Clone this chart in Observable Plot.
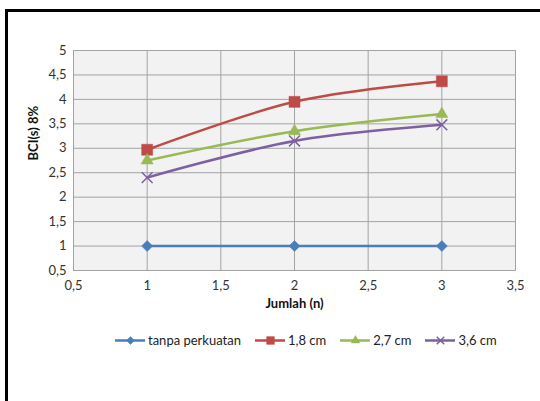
<!DOCTYPE html>
<html><head><meta charset="utf-8">
<script src="https://cdn.jsdelivr.net/npm/d3@7"></script>
<script src="https://cdn.jsdelivr.net/npm/@observablehq/plot@0.6"></script>
<style>
body{margin:0;background:#fff;}
#wrap{position:relative;width:540px;height:401px;overflow:hidden;font-family:Lato,"Open Sans",sans-serif;}
#frame{position:absolute;left:5px;top:9px;width:600px;height:500px;border:3px solid #000;box-sizing:border-box;pointer-events:none;}
#legend{position:absolute;top:332px;left:115px;display:flex;align-items:center;font-size:13px;color:#222;white-space:nowrap;}
#legend .it{display:flex;align-items:center;margin-right:14px;}
#legend svg{margin-right:3px;}
</style></head>
<body><div id="wrap"><div id="chart"></div><div id="legend"></div><div id="frame"></div></div>
<script>
const xValues = [1, 2, 3];
const seriesNames = ["tanpa perkuatan", "1,8 cm", "2,7 cm", "3,6 cm"];
const tanpa = [1, 1, 1];
const cm18 = [2.97, 3.95, 4.37];
const cm27 = [2.75, 3.35, 3.7];
const cm36 = [2.4, 3.15, 3.48];
const xTicks = [0.5, 1, 1.5, 2, 2.5, 3, 3.5];
const yTicks = [0.5, 1, 1.5, 2, 2.5, 3, 3.5, 4, 4.5, 5];
const xTitle = "Jumlah (n)";
const yTitle = "BCI(s) 8%";

const colors = ["#4a7ebb", "#be4b48", "#98b954", "#7d60a0"];
const symbols = ["diamond2", "square2", "triangle2", "times"];
const sizes = [5, 7, 5.8, 5];
const allVals = [tanpa, cm18, cm27, cm36];
const data = [];
seriesNames.forEach((s, i) => xValues.forEach((x, j) => data.push({series: s, x, y: allVals[i][j]})));
const fmt = d => String(d).replace(".", ",");

const marks = [
  Plot.frame({fill: "#f2f2f2", stroke: "#b8b8b8"}),
  Plot.ruleX(xTicks, {stroke: "#a3a3a3", strokeWidth: 1}),
  Plot.ruleY(yTicks, {stroke: "#a3a3a3", strokeWidth: 1}),
  Plot.axisX(xTicks, {tickSize: 0, tickPadding: 10, tickFormat: fmt, fontSize: 13, fill: "#333", label: null}),
  Plot.axisY(yTicks, {tickSize: 0, tickPadding: 7, tickFormat: fmt, fontSize: 13, fill: "#333", label: null}),
  Plot.text([xTitle], {frameAnchor: "bottom", dy: 37, text: d => d, fontSize: 13, fontWeight: "bold", fill: "#111"}),
  Plot.text([yTitle], {frameAnchor: "left", dx: -40, rotate: -90, text: d => d, fontSize: 13, fontWeight: "bold", fill: "#111"})
];
seriesNames.forEach((s, i) => {
  const d = data.filter(r => r.series === s);
  marks.push(Plot.line(d, {x: "x", y: "y", stroke: colors[i], strokeWidth: 2.5, curve: "catmull-rom"}));
  marks.push(Plot.dot(d, {x: "x", y: "y", symbol: () => symbols[i], r: sizes[i],
    fill: symbols[i] === "times" ? "none" : colors[i], stroke: colors[i], strokeWidth: symbols[i] === "times" ? 1.5 : 0.5}));
});

const chart = Plot.plot({
  width: 540, height: 401,
  marginLeft: 73, marginRight: 25, marginTop: 50, marginBottom: 131,
  x: {domain: [0.5, 3.5], axis: null},
  y: {domain: [0.5, 5], axis: null},
  symbol: {type: "identity"},
  style: {fontFamily: "Lato, 'Open Sans', sans-serif", background: "transparent"},
  marks
});
document.getElementById("chart").appendChild(chart);

const leg = document.getElementById("legend");
seriesNames.forEach((s, i) => {
  const it = document.createElement("div"); it.className = "it";
  const sw = Plot.plot({width: 30, height: 16, margin: 0, x: {domain: [0, 1], axis: null}, y: {domain: [0, 1], axis: null},
    symbol: {type: "identity"},
    marks: [Plot.ruleY([0.5], {stroke: colors[i], strokeWidth: 2.5}),
      Plot.dot([0.5], {x: d => d, y: 0.5, symbol: () => symbols[i], r: sizes[i] * 0.7,
        fill: symbols[i] === "times" ? "none" : colors[i], stroke: colors[i], strokeWidth: symbols[i] === "times" ? 1.5 : 0.5})]});
  it.appendChild(sw);
  const t = document.createElement("span"); t.textContent = s; it.appendChild(t);
  leg.appendChild(it);
});
</script></body></html>
